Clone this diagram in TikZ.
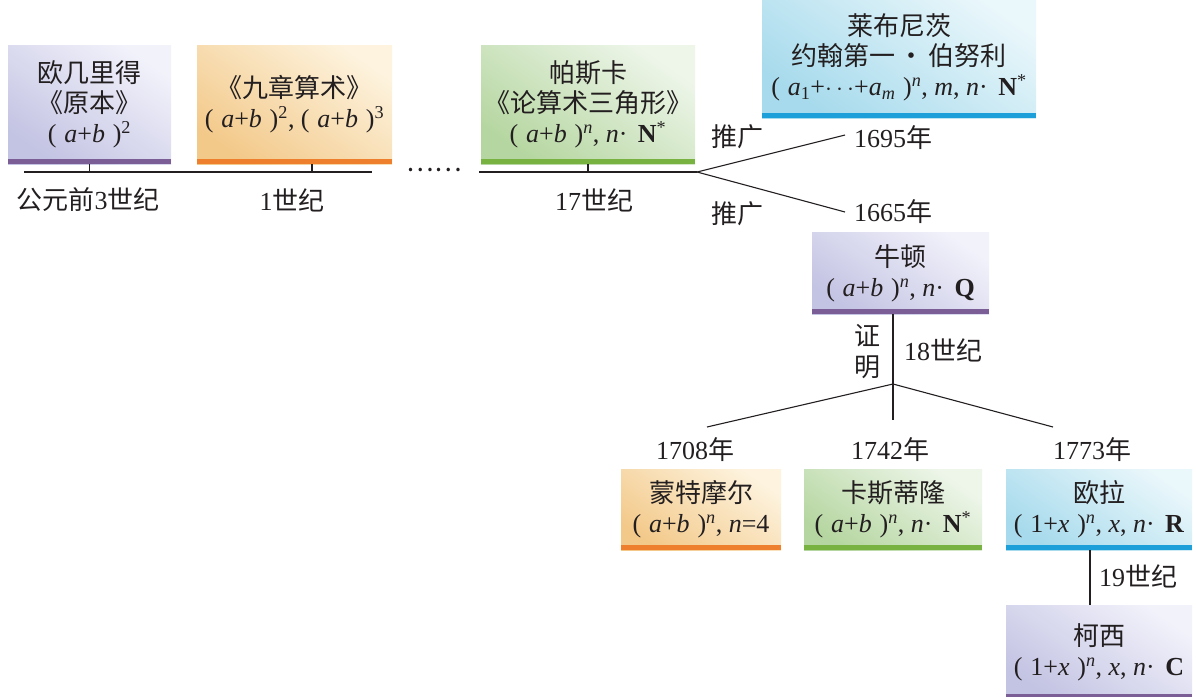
\documentclass[tikz,border=0pt]{standalone}
\usepackage{fontspec}
\setmainfont{Liberation Serif}
\newfontfamily\cjk{Noto Sans CJK SC}
\usetikzlibrary{calc}
\definecolor{lavA}{HTML}{C3C3E3}\definecolor{lavB}{HTML}{F2F2FB}
\definecolor{orA}{HTML}{F3C98A}\definecolor{orB}{HTML}{FDF3DE}
\definecolor{grA}{HTML}{B5D6A0}\definecolor{grB}{HTML}{EEF6EA}
\definecolor{blA}{HTML}{A6DAEC}\definecolor{blB}{HTML}{EAF7FB}
\definecolor{puBar}{HTML}{7B5E95}\definecolor{orBar}{HTML}{EE7F2D}
\definecolor{grBar}{HTML}{78B342}\definecolor{blBar}{HTML}{1D9FD9}
\definecolor{ink}{HTML}{231F20}
\newcommand\zh[1]{{\cjk #1}}
\newcommand\ab{(\kern.3em\textit{a}+\textit{b}\kern.3em)}
\newcommand\ox{(\kern.3em 1+\textit{x}\kern.3em)}
\newcommand\sn{\textsuperscript{\textit{n}}}
\newcommand\inn{\textit{n}\textperiodcentered\kern.4em}
\newcommand\Nst{\textbf{N}\textsuperscript{*}}
\begin{document}
\begin{tikzpicture}[x=1pt,y=-1pt,
  every node/.style={font=\fontsize{26}{30}\selectfont, inner sep=1pt, text=ink},
  conn/.style={line width=1.1pt, ink},
  card/.style n args={2}{inner sep=0pt, align=center, bottom color=#1, top color=#2, shading angle=-35}]
\useasboundingbox (0,0) rectangle (1196,696);

% boxes
\node[card={lavA}{lavB}, minimum width=163pt, minimum height=119pt] (euclid) at (89.5,104.5)
  {\zh{欧几里得}\\\zh{《原本》}\\\ab\textsuperscript{2}};
\fill[puBar] (euclid.south west) rectangle ([yshift=5pt]euclid.south east);

\node[card={orA}{orB}, minimum width=195pt, minimum height=119pt] (nine) at (294.5,104.5)
  {\zh{《九章算术》}\\\ab\textsuperscript{2}, \ab\textsuperscript{3}};
\fill[orBar] (nine.south west) rectangle ([yshift=5pt]nine.south east);

\node[card={grA}{grB}, minimum width=214pt, minimum height=119pt] (pascal) at (588,104.5)
  {\zh{帕斯卡}\\\zh{《论算术三角形》}\\\ab\sn, \inn\Nst};
\fill[grBar] (pascal.south west) rectangle ([yshift=5pt]pascal.south east);

\node[card={blA}{blB}, minimum width=274pt, minimum height=126pt, text depth=0pt] (leib) at (899,55)
  {\zh{莱布尼茨}\\\zh{约翰第一\kern.15em・\kern.15em 伯努利}\\(\kern.3em\textit{a}\textsubscript{1}+$\cdots$+\textit{a}\textsubscript{\textit{m}}\kern.3em)\sn, \textit{m}, \inn\Nst};
\fill[blBar] (leib.south west) rectangle ([yshift=5pt]leib.south east);

\node[card={lavA}{lavB}, minimum width=177pt, minimum height=82pt] (newton) at (900.5,273)
  {\zh{牛顿}\\\ab\sn, \inn\textbf{Q}};
\fill[puBar] (newton.south west) rectangle ([yshift=5pt]newton.south east);

\node[card={orA}{orB}, minimum width=160pt, minimum height=81pt] (moivre) at (701,509.5)
  {\zh{蒙特摩尔}\\\ab\sn, \textit{n}=4};
\fill[orBar] (moivre.south west) rectangle ([yshift=5pt]moivre.south east);

\node[card={grA}{grB}, minimum width=178pt, minimum height=81pt] (cast) at (893,509.5)
  {\zh{卡斯蒂隆}\\\ab\sn, \inn\Nst};
\fill[grBar] (cast.south west) rectangle ([yshift=5pt]cast.south east);

\node[card={blA}{blB}, minimum width=186pt, minimum height=81pt] (euler) at (1099,509.5)
  {\zh{欧拉}\\\ox\sn, \textit{x}, \inn\textbf{R}};
\fill[blBar] (euler.south west) rectangle ([yshift=5pt]euler.south east);

\node[card={lavA}{lavB}, minimum width=186pt, minimum height=94pt] (cauchy) at (1099,652)
  {\zh{柯西}\\\ox\sn, \textit{x}, \inn\textbf{C}};
\fill[puBar] (cauchy.south west) rectangle ([yshift=5pt]cauchy.south east);

% labels
\node (l1) at (88,200) {\zh{公元前}3\zh{世纪}};
\node (l2) at (292,200) {1\zh{世纪}};
\node (dots) at (434,170) {\zh{……}};
\node (l3) at (594,200) {17\zh{世纪}};
\node (tg1) at (737,137) {\zh{推广}};
\node (tg2) at (737,214) {\zh{推广}};
\node (y1695) at (893,138) {1695\zh{年}};
\node (y1665) at (893,212) {1665\zh{年}};
\node[align=center, font=\fontsize{26}{31}\selectfont] (zm) at (867,352) {\zh{证}\\\zh{明}};
\node (c18) at (943,350) {18\zh{世纪}};
\node (y1708) at (695,450) {1708\zh{年}};
\node (y1742) at (890,450) {1742\zh{年}};
\node (y1773) at (1092,450) {1773\zh{年}};
\node (c19) at (1138,576) {19\zh{世纪}};

% connectors
\coordinate (t1a) at (24,172);
\coordinate (t1b) at (372,172);
\coordinate (t2a) at (479,172);
\coordinate (bp) at (697,172);
\coordinate (e1695) at (845,135);
\coordinate (e1665) at (845,212);
\coordinate (bp2) at (893,384);
\coordinate (e1708) at (707,427);
\coordinate (e1742) at (893,420);
\coordinate (e1773) at (1053,427);

\draw[conn] (t1a) -- (t1b);
\draw[conn] (euclid.south) -- (euclid.south |- t1a);
\draw[conn] ([xshift=17.5pt]nine.south) -- ([xshift=17.5pt]nine.south |- t1a);
\draw[conn] (t2a) -- (bp);
\draw[conn] (pascal.south) -- (pascal.south |- bp);
\draw[conn] (bp) -- (e1695);
\draw[conn] (bp) -- (e1665);
\draw[conn] ([xshift=-7.5pt]newton.south) -- (e1742);
\draw[conn] (bp2) -- (e1708);
\draw[conn] (bp2) -- (e1773);
\draw[conn] ([xshift=-9pt]euler.south) -- ([xshift=-9pt]cauchy.north);
\end{tikzpicture}
\end{document}
